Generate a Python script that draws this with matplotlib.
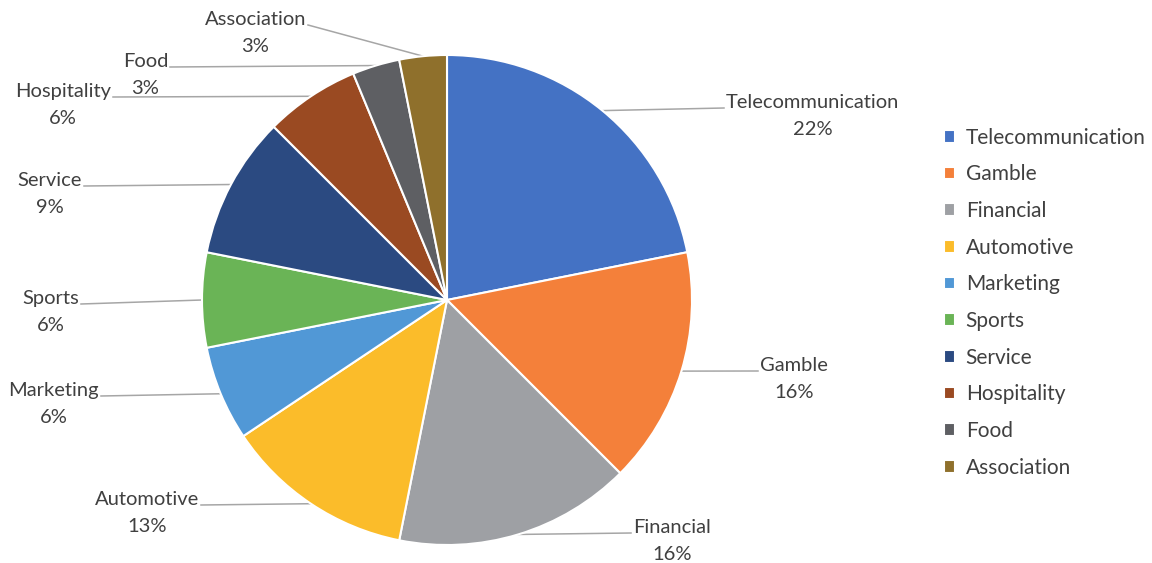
import numpy as np
import matplotlib
matplotlib.use("Agg")
from matplotlib import pyplot as plt

# data: counts per industry (shown as % of total)
categories = ["Telecommunication", "Gamble", "Financial", "Automotive", "Marketing",
              "Sports", "Service", "Hospitality", "Food", "Association"]
counts = [7, 5, 5, 4, 2, 2, 3, 2, 1, 1]
colors = ["#4472C4", "#F4803A", "#9EA0A4", "#FBBC2A", "#5198D6",
          "#6AB456", "#2B4A81", "#9A4A22", "#5E5F63", "#8F702C"]

# label layout in pixels: end of leader line (x, y) and side of the pie
label_ends = [(724, 108, "right"), (758, 371, "right"), (631, 533, "right"),
              (201, 505, "left"), (101, 396, "left"), (81, 304, "left"),
              (84, 186, "left"), (113, 97, "left"), (170, 67, "left"), (308, 25, "left")]

plt.rcParams['font.family'] = ['Lato', 'DejaVu Sans']
TXT = "#404040"
FS = 14.5
W, H = 1152, 563
CX, CY, R = 447, 300, 245  # pie centre and radius in pixels

fig = plt.figure(figsize=(W / 100, H / 100), dpi=100)
ax = fig.add_axes([0, 0, 1, 1])


def px(x, y):
    return (x - CX) / R, (CY - y) / R


wedges, _ = ax.pie(counts, colors=colors, startangle=90, counterclock=False, radius=1,
                   wedgeprops=dict(edgecolor="white", linewidth=1.5))
ax.set_xlim(-CX / R, (W - CX) / R)
ax.set_ylim(-(H - CY) / R, CY / R)
ax.set_aspect("equal")
ax.axis("off")

total = sum(counts)
for w, name, c, (ex, ey, side) in zip(wedges, categories, counts, label_ends):
    mid = np.deg2rad((w.theta1 + w.theta2) / 2)
    sx, sy = np.cos(mid), np.sin(mid)
    lx, ly = px(ex, ey)
    ax.plot([sx, lx], [sy, ly], color="#A6A6A6", lw=1.1, zorder=0)
    pct = int(c / total * 100 + 0.5)
    tx = lx + (2 / R if side == "right" else -2 / R)
    ax.text(tx, ly + 14 / R, f"{name}\n{pct}%", ha="left" if side == "right" else "right",
            va="top", multialignment="center", fontsize=FS, color=TXT, linespacing=1.7)

leg = ax.legend(wedges, categories, loc="upper left", bbox_to_anchor=(925 / W, 1 - 109 / H),
                bbox_transform=fig.transFigure, frameon=False, fontsize=15,
                handlelength=0.55, handleheight=0.55, handletextpad=0.5, labelspacing=0.8)
for t in leg.get_texts():
    t.set_color(TXT)

fig.savefig("out.png", dpi=100)
